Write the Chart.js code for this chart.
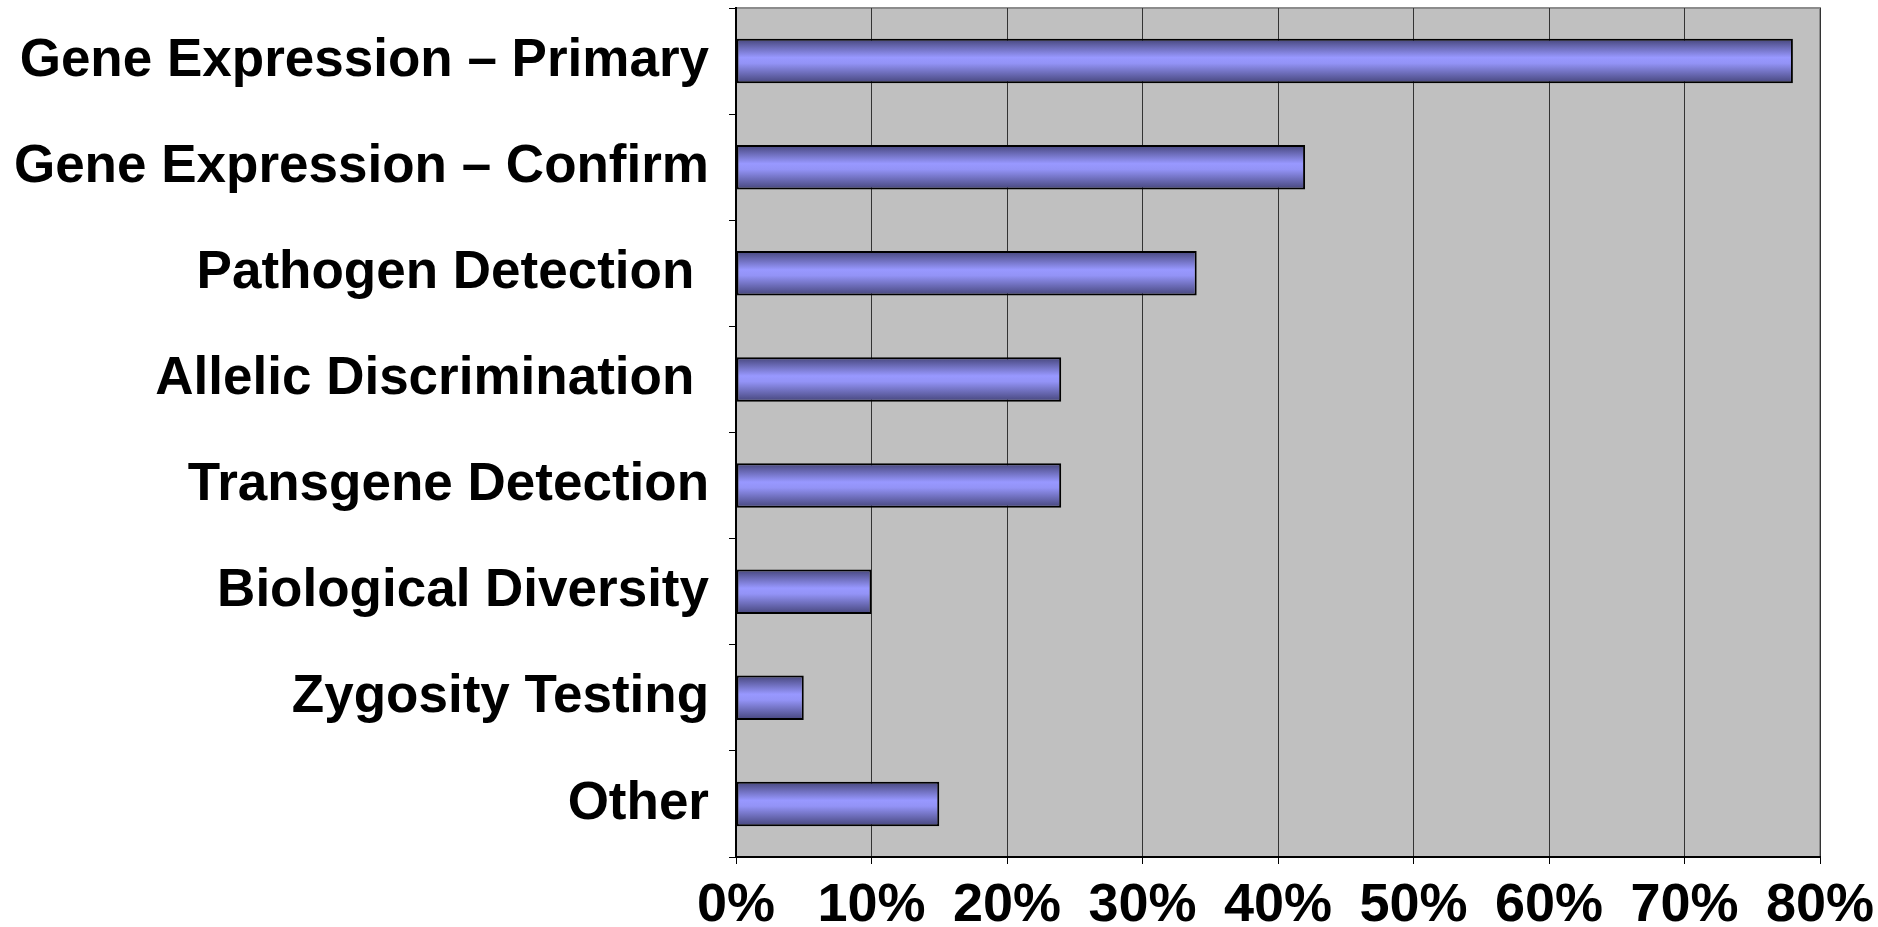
<!DOCTYPE html>
<html>
<head>
<meta charset="utf-8">
<script src="https://cdn.jsdelivr.net/npm/chart.js@4/dist/chart.umd.min.js"></script>
<style>
  html, body { margin: 0; padding: 0; background: #fff; }
  #wrap { width: 1878px; height: 927px; }
</style>
</head>
<body>
<div id="wrap"><canvas id="grafico"></canvas></div>
<script>
const categorias = [
  'Gene Expression \u2013 Primary',
  'Gene Expression \u2013 Confirm',
  'Pathogen Detection ',
  'Allelic Discrimination ',
  'Transgene Detection',
  'Biological Diversity',
  'Zygosity Testing',
  'Other'
];
const valores = [0.78, 0.42, 0.34, 0.24, 0.24, 0.10, 0.05, 0.15];
const xTickLabels = ['0%', '10%', '20%', '30%', '40%', '50%', '60%', '70%', '80%'];

const larguraBarra = 0.42;

// fundo cinza da area do grafico + borda de cima/direita
const fundoPlot = {
  id: 'fundoPlot',
  beforeDraw(chart) {
    const { ctx, chartArea: a } = chart;
    ctx.save();
    ctx.fillStyle = '#c0c0c0';
    ctx.fillRect(a.left, a.top, a.right - a.left, a.bottom - a.top);
    ctx.strokeStyle = '#8c8c8c';
    ctx.lineWidth = 2;
    ctx.beginPath();
    ctx.moveTo(a.left, a.top);
    ctx.lineTo(a.right, a.top);
    ctx.lineTo(a.right, a.bottom);
    ctx.stroke();
    ctx.restore();
  }
};

// degrade vertical em cada barra
function degrade(context) {
  const chart = context.chart;
  const y = chart.scales.y;
  if (!chart.chartArea || !y) return '#9999ff';
  const c = y.getPixelForValue(context.dataIndex);
  const h = y.height / categorias.length * larguraBarra;
  const g = chart.ctx.createLinearGradient(0, c - h / 2, 0, c + h / 2);
  g.addColorStop(0, '#45457a');
  g.addColorStop(0.42, '#9898ff');
  g.addColorStop(0.55, '#9393f6');
  g.addColorStop(1, '#45457a');
  return g;
}

const ctx = document.getElementById('grafico');
const myChart = new Chart(ctx, {
  type: 'bar',
  data: {
    labels: categorias,
    datasets: [{
      data: valores,
      backgroundColor: degrade,
      borderColor: '#000',
      borderWidth: 2,
      borderSkipped: false,
      barPercentage: larguraBarra,
      categoryPercentage: 1
    }]
  },
  plugins: [fundoPlot],
  options: {
    indexAxis: 'y',
    responsive: true,
    maintainAspectRatio: false,
    animation: false,
    layout: { padding: { top: 8, right: 58, left: 0, bottom: 0 } },
    scales: {
      x: {
        min: 0,
        max: 0.8,
        ticks: {
          stepSize: 0.1,
          color: '#000',
          padding: 10,
          maxRotation: 0,
          font: { size: 54, family: 'Liberation Sans', weight: 'bold' },
          callback: (v, i) => xTickLabels[i]
        },
        grid: { color: '#333', lineWidth: 1, tickLength: 7, tickColor: '#000' },
        border: { color: '#000', width: 2 },
        afterFit(s) { s.height = 70; s.paddingLeft = 0; s.paddingRight = 0; }
      },
      y: {
        ticks: {
          color: '#000',
          padding: 20,
          autoSkip: false,
          font: { size: 53, family: 'Liberation Sans', weight: 'bold' }
        },
        grid: { drawOnChartArea: false, offset: true, tickLength: 7, color: '#000' },
        border: { color: '#000', width: 2 },
        afterFit(s) { s.width = 736; s.paddingTop = 0; s.paddingBottom = 0; }
      }
    },
    plugins: {
      legend: { display: false },
      tooltip: { enabled: false }
    }
  }
});
</script>
</body>
</html>
